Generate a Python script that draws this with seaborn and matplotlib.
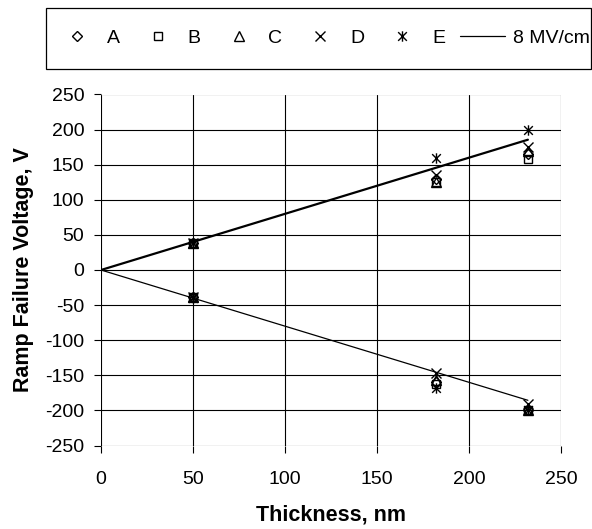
import numpy as np
import pandas as pd
import matplotlib
matplotlib.use("Agg")
import matplotlib.pyplot as plt
import seaborn as sns
from matplotlib.path import Path
from matplotlib.patches import Rectangle

sns.set_theme(style="white")
plt.rcParams['font.family'] = ['Liberation Sans', 'DejaVu Sans']
plt.rcParams['axes.unicode_minus'] = False
plt.rcParams['text.color'] = 'black'
plt.rcParams['axes.labelcolor'] = 'black'
plt.rcParams['xtick.color'] = 'black'
plt.rcParams['ytick.color'] = 'black'

thickness = [50, 182, 232]
series = ["A", "B", "C", "D", "E"]
pos_A = [38, 130, 165]
pos_B = [38, 125, 158]
pos_C = [38, 125, 170]
pos_D = [38, 135, 175]
pos_E = [38, 160, 199]
neg_A = [-39, -160, -199]
neg_B = [-39, -162, -200]
neg_C = [-39, -156, -199]
neg_D = [-39, -147, -191]
neg_E = [-40, -168, -200]
field_MV_cm = 8
line_t = [0, 232]

rows = []
for name, p, n in zip(series, [pos_A, pos_B, pos_C, pos_D, pos_E],
                      [neg_A, neg_B, neg_C, neg_D, neg_E]):
    for t, v in zip(thickness, p):
        rows.append(dict(t=t, v=v, s=name))
    for t, v in zip(thickness, n):
        rows.append(dict(t=t, v=v, s=name))
df = pd.DataFrame(rows)

star = Path([(-1, -1), (1, 1), (-1, 1), (1, -1), (0, -1.2), (0, 1.2)],
            [Path.MOVETO, Path.LINETO, Path.MOVETO, Path.LINETO, Path.MOVETO, Path.LINETO])
markers = {"A": "D", "B": "s", "C": "^", "D": "x", "E": star}
sizes = {"A": 5, "B": 6, "C": 6.5, "D": 6.5, "E": 7.5}

W, H = 592, 529
fig = plt.figure(figsize=(W / 100, H / 100), dpi=100)
ax = fig.add_axes([101 / W, 1 - 445.5 / H, 460 / W, 351 / H])

for name in series:
    sub = df[df.s == name]
    ax.plot(sub.t, sub.v, linestyle="none", marker=markers[name],
            markersize=sizes[name], markerfacecolor="none",
            markeredgecolor="black", markeredgewidth=1.0, label=name, zorder=3)

lt = np.array(line_t)
sns.lineplot(x=lt, y=field_MV_cm * 0.1 * lt, ax=ax, color="black", linewidth=1.6,
             label="_nolegend_", zorder=2)
sns.lineplot(x=lt, y=-field_MV_cm * 0.1 * lt, ax=ax, color="black", linewidth=0.9,
             label="8 MV/cm", zorder=2)

ax.set_xlim(0, 250)
ax.set_ylim(-250, 250)
ax.set_xticks(np.arange(0, 251, 50))
ax.set_yticks(np.arange(-250, 251, 50))
ax.grid(True, color="black", linewidth=0.8)
for sp in ax.spines.values():
    sp.set_visible(False)
ax.tick_params(axis="both", which="both", direction="out", length=5, width=0.8,
               color="black", labelsize=14, left=True, bottom=True)
ax.tick_params(axis="x", pad=13)
ax.tick_params(axis="y", pad=7)
ax.set_xlabel("Thickness, nm", fontsize=15.5, fontweight="bold", labelpad=12)
ax.set_ylabel("Ramp Failure Voltage, V", fontsize=15.5, fontweight="bold", labelpad=8)

fig.patches.append(Rectangle((46 / W, 1 - 69 / H), 545 / W, 61 / H,
                             transform=fig.transFigure, fill=False,
                             edgecolor="black", linewidth=0.9))
leg = ax.legend(loc="center left", bbox_to_anchor=(55 / W, 1 - 38.5 / H),
                bbox_transform=fig.transFigure, ncol=6, fontsize=14, frameon=False,
                handlelength=2.3, handletextpad=0.38, columnspacing=0.8,
                borderpad=0, borderaxespad=0)
fig.savefig("out.png", dpi=100)
